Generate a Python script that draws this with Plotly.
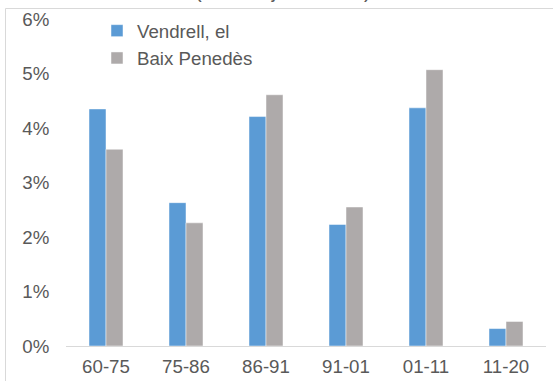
import plotly.graph_objects as go

categories = ["60-75", "75-86", "86-91", "91-01", "01-11", "11-20"]
vendrell = [4.35, 2.63, 4.21, 2.23, 4.37, 0.32]
baix_penedes = [3.61, 2.26, 4.61, 2.55, 5.07, 0.45]
y_ticks = [0, 1, 2, 3, 4, 5, 6]
y_tick_labels = ["0%", "1%", "2%", "3%", "4%", "5%", "6%"]
title_text = "(taxa mitjana anual)"

W, H = 553, 381
L, R, T, B = 66, 7, 19, 35
pw, ph = W - L - R, H - T - B

def px_x(x):
    return (x - L) / pw

def px_y(y):
    return (H - B - y) / ph

font_fam = "Liberation Sans, Arial, sans-serif"
txt_col = "#595959"
fs = 18.7

fig = go.Figure()
fig.add_trace(go.Bar(
    x=categories, y=vendrell, name="Vendrell, el",
    marker=dict(color="#5B9BD5", line=dict(color="rgba(255,255,255,0.8)", width=0.6)),
    legendgroup="a",
))
fig.add_trace(go.Bar(
    x=categories, y=baix_penedes, name="Baix Penedès",
    marker=dict(color="#AEAAAA", line=dict(color="rgba(255,255,255,0.8)", width=0.6)),
    legendgroup="b",
))

fig.update_layout(
    width=W, height=H,
    margin=dict(l=L, r=R, t=T, b=B, pad=0, autoexpand=False),
    paper_bgcolor="white", plot_bgcolor="white",
    font=dict(family=font_fam, size=fs, color=txt_col),
    barmode="group", bargap=0.575, bargroupgap=0,
    showlegend=True,
    legend=dict(
        x=px_x(97), y=px_y(12), xanchor="left", yanchor="top",
        xref="paper", yref="paper",
        bgcolor="rgba(0,0,0,0)", borderwidth=0,
        font=dict(size=fs, color=txt_col, family=font_fam),
        traceorder="grouped", tracegroupgap=0,
    ),
    xaxis=dict(
        type="category", categoryorder="array", categoryarray=categories,
        showgrid=False, showline=True, linecolor="#D9D9D9", linewidth=1,
        ticks="outside", ticklen=4, tickcolor="rgba(0,0,0,0)",
        tickfont=dict(size=fs, color=txt_col, family=font_fam),
        zeroline=False, automargin=False,
    ),
    yaxis=dict(
        range=[0, 6], tickmode="array", tickvals=y_ticks, ticktext=y_tick_labels,
        showgrid=False, showline=False, zeroline=False,
        ticks="outside", ticklen=12, tickcolor="rgba(0,0,0,0)",
        tickfont=dict(size=fs, color=txt_col, family=font_fam), automargin=False,
    ),
    shapes=[dict(
        type="rect", xref="paper", yref="paper",
        x0=px_x(5.5), x1=px_x(600), y0=px_y(500), y1=px_y(8.5),
        line=dict(color="#D9D9D9", width=1), fillcolor="rgba(0,0,0,0)", layer="below",
    )],
    annotations=[dict(
        text=title_text, xref="paper", yref="paper",
        x=px_x(283), y=px_y(4.5), xanchor="center", yanchor="bottom",
        showarrow=False, font=dict(size=20, color=txt_col, family=font_fam),
    )],
)

fig.write_html(
    "out.html",
    config={"displayModeBar": False},
    post_script="document.body.style.margin='0';document.body.style.padding='0';",
)
